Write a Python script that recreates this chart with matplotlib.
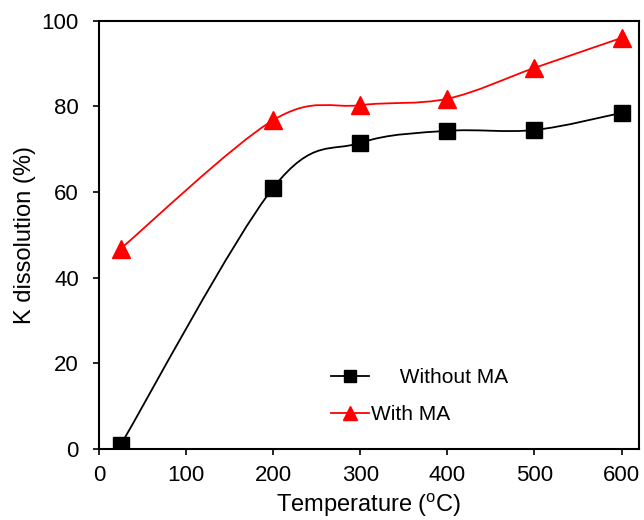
import numpy as np
import matplotlib
matplotlib.use("Agg")
import matplotlib.pyplot as plt
from matplotlib.path import Path
from matplotlib.patches import PathPatch
from matplotlib.lines import Line2D

plt.rcParams['font.family'] = ['Liberation Sans', 'DejaVu Sans']
plt.rcParams['mathtext.fontset'] = 'custom'
plt.rcParams['mathtext.rm'] = 'Liberation Sans'

temps = [25, 200, 300, 400, 500, 600]
without_ma = [1.0, 61.0, 71.5, 74.3, 74.5, 78.5]
with_ma = [46.8, 76.8, 80.3, 81.8, 89.0, 96.0]


def smooth_path(xs, ys, t=1 / 6):
    # excel-style smoothed line as cubic bezier segments
    pts = np.column_stack([xs, ys])
    verts = [pts[0]]
    codes = [Path.MOVETO]
    n = len(pts)
    for i in range(n - 1):
        p0 = pts[i - 1] if i > 0 else pts[i]
        p1 = pts[i]
        p2 = pts[i + 1]
        p3 = pts[i + 2] if i + 2 < n else pts[i + 1]
        c1 = p1 + (p2 - p0) * t
        c2 = p2 - (p3 - p1) * t
        verts += [c1, c2, p2]
        codes += [Path.CURVE4] * 3
    return Path(verts, codes)


fig = plt.figure(figsize=(6.44, 5.2), dpi=100)
ax = fig.add_axes([0.1537, 0.1365, 0.8385, 0.8235])

ax.add_patch(PathPatch(smooth_path(temps, with_ma), fill=False, edgecolor='#ff0000', lw=1.3))
ax.add_patch(PathPatch(smooth_path(temps, without_ma), fill=False, edgecolor='black', lw=1.3))
ax.plot(temps, with_ma, linestyle='none', marker='^', color='#ff0000', markersize=13)
ax.plot(temps, without_ma, linestyle='none', marker='s', color='black', markersize=11.5)

ax.set_xlim(0, 620)
ax.set_ylim(0, 100)
ax.set_xticks(range(0, 601, 100))
ax.set_yticks(range(0, 101, 20))
ax.tick_params(direction='out', length=4.5, width=1.2, labelsize=16, right=False, top=False)
ax.tick_params(axis='x', pad=7)
ax.tick_params(axis='y', pad=10)
for s in ax.spines.values():
    s.set_linewidth(1.5)

ax.set_xlabel(r'Temperature ($^\mathregular{o}$C)', fontsize=17, labelpad=4)
ax.set_ylabel('K dissolution (%)', fontsize=17, labelpad=4)

h1 = Line2D([], [], color='black', marker='s', markersize=8.5, lw=1.3)
h2 = Line2D([], [], color='#ff0000', marker='^', markersize=9.5, lw=1.3)
ax.legend([h1, h2], ['     Without MA', 'With MA'], loc='lower left',
          bbox_to_anchor=(0.395, 0.015), frameon=False, fontsize=15,
          handlelength=1.8, handletextpad=0.1, labelspacing=0.85)

fig.savefig('out.png', dpi=100)
